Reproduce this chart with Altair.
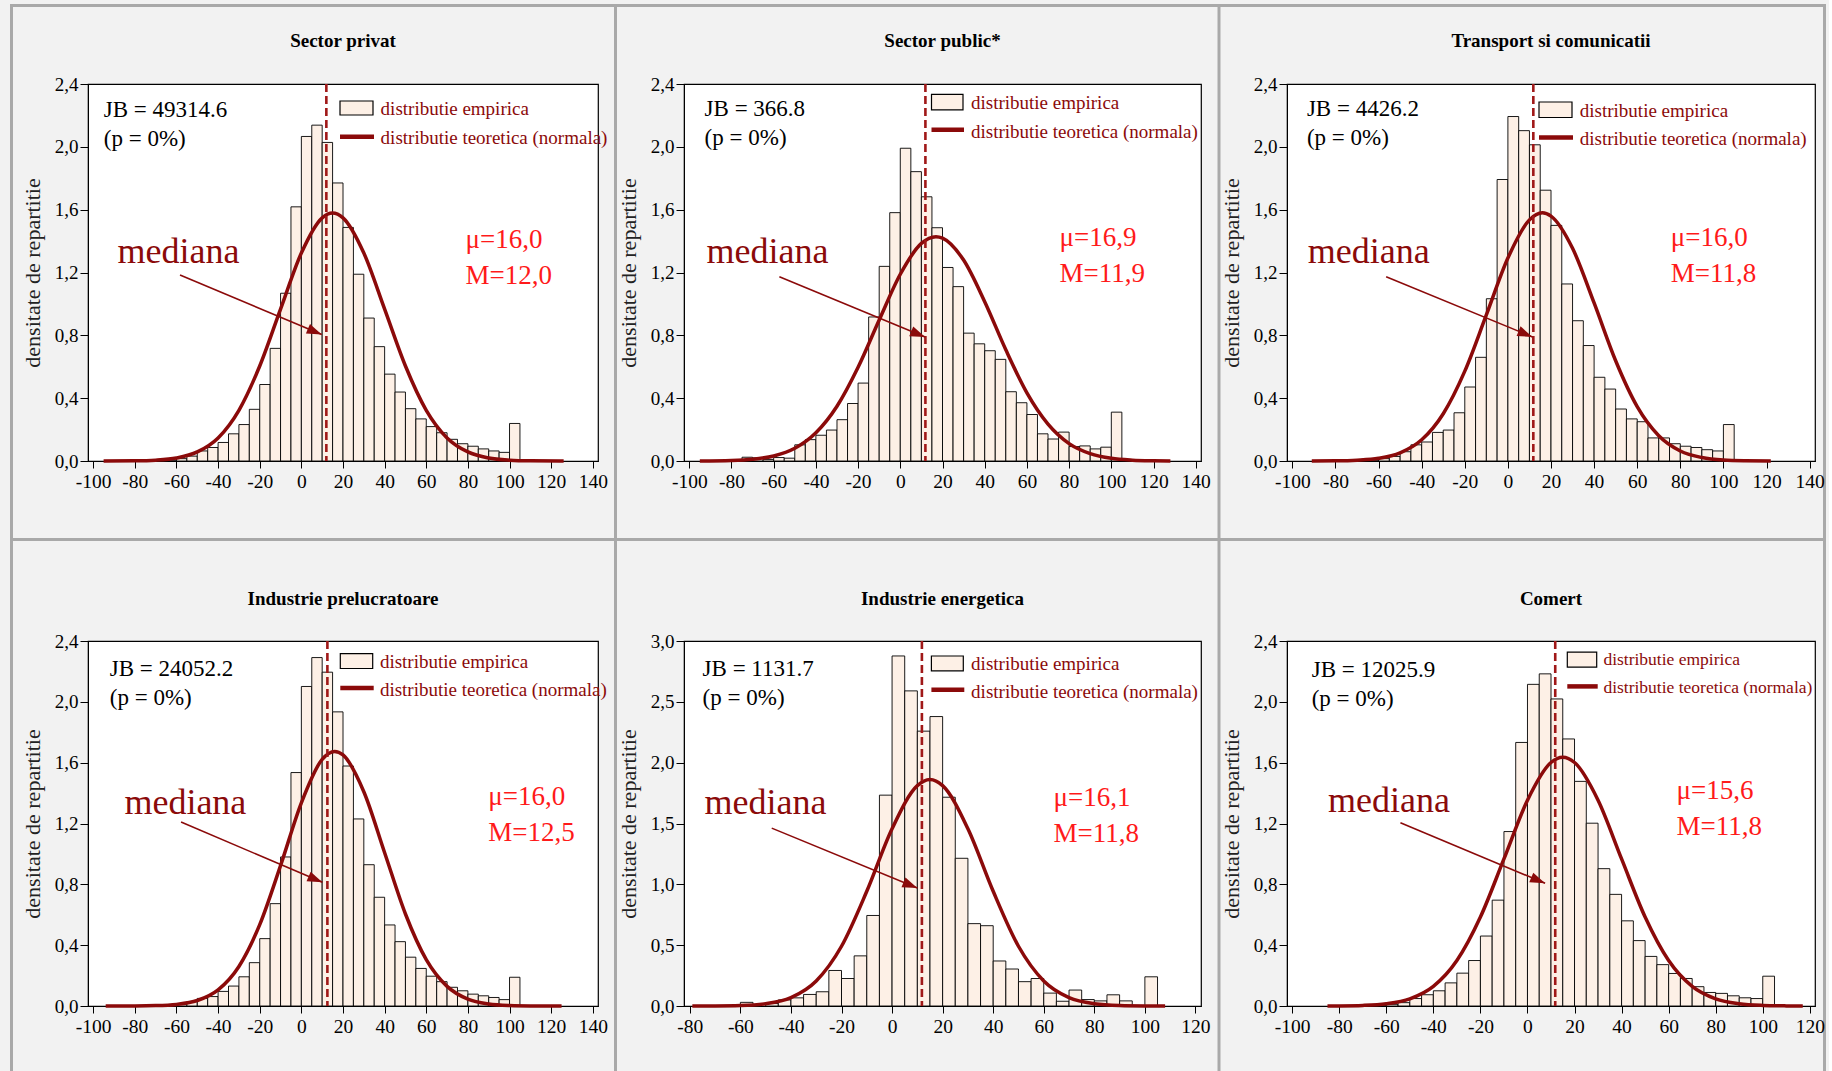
import math
import altair as alt
import pandas as pd

# ---------------- data ----------------
TITLES = ["Sector privat", "Sector public*", "Transport si comunicatii",
          "Industrie prelucratoare", "Industrie energetica", "Comert"]
JB_LABELS = ["JB = 49314.6", "JB = 366.8", "JB = 4426.2",
             "JB = 24052.2", "JB = 1131.7", "JB = 12025.9"]
P_LABEL = "(p = 0%)"
MU_LABELS = ["μ=16,0", "μ=16,9", "μ=16,0", "μ=16,0", "μ=16,1", "μ=15,6"]
MED_LABELS = ["M=12,0", "M=11,9", "M=11,8", "M=12,5", "M=11,8", "M=11,8"]
MEDIANS = [12.0, 11.9, 11.8, 12.5, 11.8, 11.8]

BIN_START = [-75, -70, -65, -60, -55, -50, -45, -40, -35, -30, -25, -20,
             -15, -10, -5, 0, 5, 10, 15, 20, 25, 30, 35, 40, 45, 50, 55,
             60, 65, 70, 75, 80, 85, 90, 95, 100]
BIN_WIDTH = 5

H_PRIVAT = [0, 0, 0.005, 0.015, 0.031, 0.064, 0.086, 0.118, 0.173, 0.232, 0.329, 0.487,
            0.717, 1.068, 1.618, 2.066, 2.138, 2.028, 1.77, 1.487, 1.189, 0.91, 0.728, 0.553,
            0.439, 0.333, 0.268, 0.219, 0.18, 0.138, 0.11, 0.094, 0.077, 0.064, 0.055, 0.239]
H_PUBLIC = [0.024, 0.02, 0.01, 0.022, 0.018, 0.103, 0.136, 0.164, 0.197, 0.263, 0.366, 0.496,
            0.917, 1.239, 1.581, 1.991, 1.842, 1.682, 1.485, 1.232, 1.11, 0.814, 0.746, 0.702,
            0.647, 0.441, 0.371, 0.296, 0.173, 0.14, 0.184, 0.092, 0.096, 0.077, 0.088, 0.311]
H_TRANSP = [0, 0, 0.005, 0.015, 0.029, 0.059, 0.103, 0.121, 0.182, 0.197, 0.307, 0.471,
            0.66, 1.033, 1.792, 2.193, 2.103, 2.013, 1.724, 1.5, 1.127, 0.893, 0.735, 0.533,
            0.458, 0.331, 0.268, 0.25, 0.147, 0.147, 0.11, 0.094, 0.086, 0.072, 0.064, 0.232]
H_PRELUC = [0, 0, 0.005, 0.015, 0.029, 0.05, 0.062, 0.096, 0.131, 0.192, 0.285, 0.443,
            0.673, 0.98, 1.535, 2.101, 2.291, 2.195, 1.934, 1.578, 1.23, 0.929, 0.715, 0.533,
            0.423, 0.321, 0.247, 0.196, 0.16, 0.123, 0.1, 0.078, 0.067, 0.056, 0.042, 0.189]
H_ENERG = [0, 0, 0, 0.03, 0, 0.02, 0.05, 0.067, 0.095, 0.117, 0.292, 0.226,
           0.412, 0.744, 1.733, 2.877, 2.59, 2.259, 2.379, 1.716, 1.214, 0.677, 0.66, 0.37,
           0.304, 0.2, 0.226, 0.106, 0.039, 0.131, 0.053, 0.042, 0.092, 0.042, 0, 0.24]
H_COMERT = [0, 0, 0.005, 0.011, 0.022, 0.049, 0.074, 0.1, 0.152, 0.216, 0.299, 0.46,
            0.696, 1.147, 1.733, 2.115, 2.184, 2.019, 1.756, 1.477, 1.202, 0.903, 0.734, 0.56,
            0.43, 0.326, 0.272, 0.214, 0.181, 0.127, 0.089, 0.083, 0.067, 0.054, 0.049, 0.196]
HEIGHTS = [H_PRIVAT, H_PUBLIC, H_TRANSP, H_PRELUC, H_ENERG, H_COMERT]

# theoretical (normal) curves
NX_PRIVAT = [-95, -80, -70, -60, -50, -40, -30, -20, -10, 0, 10, 15, 20, 30, 40, 50, 60, 70, 80, 90, 100, 110, 126]
NY_PRIVAT = [0.0001, 0.0013, 0.0055, 0.0192, 0.0577, 0.147, 0.323, 0.605, 0.967, 1.324, 1.548, 1.579,
             1.548, 1.324, 0.967, 0.605, 0.323, 0.147, 0.0577, 0.0192, 0.0055, 0.0013, 0.0001]
NX_PUBLIC = [-95, -80, -70, -60, -50, -40, -30, -20, -10, 0, 10, 16.9, 20, 30, 40, 50, 60, 70, 80, 90, 100, 110, 120, 128]
NY_PUBLIC = [0.0005, 0.0035, 0.011, 0.032, 0.081, 0.18, 0.349, 0.597, 0.898, 1.189, 1.385, 1.428,
             1.419, 1.279, 1.014, 0.708, 0.434, 0.235, 0.111, 0.047, 0.017, 0.0055, 0.0016, 0.0005]
NX_TRANSP = [-91, -80, -70, -60, -50, -40, -30, -20, -10, 0, 10, 16, 20, 30, 40, 50, 60, 70, 80, 90, 100, 110, 122]
NY_TRANSP = [0.0002, 0.001, 0.005, 0.017, 0.052, 0.135, 0.301, 0.572, 0.93, 1.292, 1.535, 1.58,
             1.559, 1.354, 1.006, 0.638, 0.346, 0.161, 0.064, 0.022, 0.006, 0.0016, 0.0002]
NX_PRELUC = [-94, -80, -70, -60, -50, -40, -30, -20, -10, 0, 10, 16, 20, 30, 40, 50, 60, 70, 80, 90, 100, 110, 125]
NY_PRELUC = [0.0001, 0.0005, 0.0025, 0.0104, 0.036, 0.106, 0.26, 0.535, 0.923, 1.336, 1.622, 1.674,
             1.651, 1.409, 1.008, 0.605, 0.305, 0.129, 0.045, 0.0135, 0.0034, 0.0007, 0.0001]
NX_ENERG = [-79, -70, -60, -50, -40, -30, -20, -10, 0, 10, 15, 20, 30, 40, 50, 60, 70, 80, 90, 100, 108]
NY_ENERG = [0.0001, 0.0007, 0.004, 0.019, 0.069, 0.206, 0.491, 0.943, 1.457, 1.811, 1.861,
            1.811, 1.457, 0.943, 0.491, 0.206, 0.069, 0.019, 0.004, 0.0007, 0.0001]
NX_COMERT = [-85, -80, -70, -60, -50, -40, -30, -20, -10, 0, 10, 15, 20, 30, 40, 50, 60, 70, 80, 90, 100, 110, 117]
NY_COMERT = [0.0004, 0.0008, 0.0038, 0.0146, 0.047, 0.129, 0.299, 0.585, 0.967, 1.353, 1.601, 1.635,
             1.601, 1.353, 0.967, 0.585, 0.299, 0.129, 0.047, 0.0146, 0.0038, 0.0008, 0.0002]
NORM_X = [NX_PRIVAT, NX_PUBLIC, NX_TRANSP, NX_PRELUC, NX_ENERG, NX_COMERT]
NORM_Y = [NY_PRIVAT, NY_PUBLIC, NY_TRANSP, NY_PRELUC, NY_ENERG, NY_COMERT]

# "mediana" arrows (data coordinates): start and tip
ARROW_FROM = [(-58.3, 1.184), (-57.3, 1.173), (-56.5, 1.173), (-57.8, 1.21), (-47.6, 1.462), (-54.0, 1.205)]
ARROW_TO = [(9.8, 0.805), (11.75, 0.789), (11.4, 0.79), (10.1, 0.813), (10.0, 0.969), (7.5, 0.807)]

X_TICKS_A = [-100, -80, -60, -40, -20, 0, 20, 40, 60, 80, 100, 120, 140]
X_TICKS_E = [-80, -60, -40, -20, 0, 20, 40, 60, 80, 100, 120]
X_TICKS_C = [-100, -80, -60, -40, -20, 0, 20, 40, 60, 80, 100, 120]
Y_TICKS_A = [0, 0.4, 0.8, 1.2, 1.6, 2.0, 2.4]
Y_TICKS_E = [0, 0.5, 1.0, 1.5, 2.0, 2.5, 3.0]

# ---------------- layout / style ----------------
XDOM = [[-102.5, 142.5]] * 4 + [[-82.3, 122.2], [-102.2, 122.2]]
XTICKS = [X_TICKS_A] * 4 + [X_TICKS_E, X_TICKS_C]
YDOM = [[0, 2.4]] * 4 + [[0, 3.0], [0, 2.4]]
YTICKS = [Y_TICKS_A] * 4 + [Y_TICKS_E, Y_TICKS_A]
W = [510, 517, 528, 510, 517, 528]
H = [377, 377, 377, 365, 365, 365]
COL_SPACING = 86
ROW_SPACING = 180
ORIGIN_X, ORIGIN_Y = 87, 83  # canvas position of the first plot area
TITLE_DY = [-43, -43, -43, -42, -42, -42]

LEG_BOX = [(252, 285, 17, 31), (247.5, 279, 10.4, 25.9), (252, 285, 18, 33.5),
           (252.3, 284.7, 12.6, 27.5), (247.4, 279.3, 15, 29.8), (280.3, 309.7, 11.2, 26.1)]
LEG_TX = [292.6, 287, 292.8, 291.9, 287.1, 316.4]
LEG_TY1 = [25, 19, 27, 20.7, 23.4, 19.3]
LEG_LY = [52.7, 45.8, 53.4, 47.1, 48.8, 45.4]
LEG_FS = [19, 19, 19, 19, 19, 17.5]
JB_POS = [(15.8, 26), (20.6, 24.8), (19.9, 24.8), (21.8, 27.8), (18.6, 27.8), (24.7, 28.8)]
MED_POS = [(29.6, 168), (22.6, 168), (20.7, 168), (36.4, 162.2), (20.6, 162.2), (41.1, 159.9)]
MU_POS = [(377.6, 155.7), (375.5, 154.3), (383.7, 154.3), (400.2, 155.5), (369.6, 157.2), (389.6, 149.7)]

SERIF = "Liberation Serif"
TITLE_FONT = "Liberation Sans Narrow, Liberation Serif"
DARK = "#8b0a0a"
MED_COLOR = "#a01818"
RED = "#ff1a1a"
BAR_FILL = "#fdf0e6"
BG = "#f2f2f2"
SEP = "#a9a9a9"
ARROW_PATH = "M0,0L-2,-0.7L-2,0.7Z"
YLABEL_EXPR = "replace(format(datum.value, '.1f'), '.', ',')"
XLABEL_EXPR = "datum.value < 0 ? '-' + format(-datum.value, 'd') : format(datum.value, 'd')"


def one():
    return pd.DataFrame({"a": [0]})


def text_layer(txt, x, y, size, color, align="left", font=SERIF, weight="normal"):
    return alt.Chart(one()).mark_text(
        text=txt, font=font, fontSize=size, color=color, align=align, baseline="middle",
        fontWeight=weight
    ).encode(x=alt.value(x), y=alt.value(y))


def panel(i):
    w, h = W[i], H[i]
    xs = alt.Scale(domain=XDOM[i], nice=False, zero=False)
    ys = alt.Scale(domain=YDOM[i], nice=False, zero=False)
    xaxis = alt.Axis(values=XTICKS[i], grid=False, tickSize=7, labelPadding=4,
                     labelFont=SERIF, labelFontSize=19.5, labelColor="black",
                     labelExpr=XLABEL_EXPR,
                     domainColor="black", tickColor="black", labelFlush=False)
    yaxis = alt.Axis(values=YTICKS[i], grid=False, tickSize=8, labelPadding=2,
                     labelFont=SERIF, labelFontSize=19, labelColor="black",
                     labelExpr=YLABEL_EXPR, domainColor="black", tickColor="black",
                     title="densitate de repartitie", titleFont=SERIF, titleFontSize=22,
                     titleFontWeight="normal", titleColor="#222222", titlePadding=10,
                     labelFlush=False)
    YT = "densitate de repartitie"

    def X(f):
        return alt.X(f, scale=xs, axis=xaxis, title=None)

    def Y(f):
        return alt.Y(f, scale=ys, axis=yaxis, title=YT)

    bdf = pd.DataFrame({"x0": BIN_START,
                        "x1": [b + BIN_WIDTH for b in BIN_START],
                        "d": HEIGHTS[i],
                        "base": [0] * len(BIN_START)})
    bdf = bdf[bdf["d"] > 0]
    bars = alt.Chart(bdf).mark_rect(fill=BAR_FILL, stroke="black", strokeWidth=0.9).encode(
        x=X("x0:Q"), x2="x1:Q", y=Y("d:Q"), y2="base:Q")

    ndf = pd.DataFrame({"nx": NORM_X[i], "ny": NORM_Y[i]})
    normal = alt.Chart(ndf).mark_line(color=DARK, strokeWidth=3.5, interpolate="monotone").encode(
        x=X("nx:Q"), y=Y("ny:Q"))

    mdf = pd.DataFrame({"m": [MEDIANS[i]]})
    median = alt.Chart(mdf).mark_rule(color=MED_COLOR, strokeWidth=2.6, strokeDash=[8, 4]).encode(
        x=X("m:Q"), y=alt.value(0), y2=alt.value(h))

    (ax, ay), (bx, by) = ARROW_FROM[i], ARROW_TO[i]
    adf = pd.DataFrame({"ax": [ax], "ay": [ay], "bx": [bx], "by": [by]})
    arrow = alt.Chart(adf).mark_rule(color=DARK, strokeWidth=1.6).encode(
        x=X("ax:Q"), y=Y("ay:Q"), x2="bx:Q", y2="by:Q")
    dxp = (bx - ax) / (XDOM[i][1] - XDOM[i][0]) * w
    dyp = (ay - by) / (YDOM[i][1] - YDOM[i][0]) * h
    ang = math.degrees(math.atan2(dyp, dxp)) % 360
    head = alt.Chart(adf).mark_point(shape=ARROW_PATH, size=225, angle=ang, filled=True,
                                     color=DARK, opacity=1, strokeWidth=0).encode(
        x=X("bx:Q"), y=Y("by:Q"))

    x1, x2, y1, y2 = LEG_BOX[i]
    leg_box = alt.Chart(one()).mark_rect(fill=BAR_FILL, stroke="black", strokeWidth=1.2).encode(
        x=alt.value(x1), x2=alt.value(x2), y=alt.value(y1), y2=alt.value(y2))
    leg_line = alt.Chart(one()).mark_rule(color=DARK, strokeWidth=4.5).encode(
        x=alt.value(x1), x2=alt.value(x2 + 1), y=alt.value(LEG_LY[i]))
    leg_t1 = text_layer("distributie empirica", LEG_TX[i], LEG_TY1[i], LEG_FS[i], DARK)
    leg_t2 = text_layer("distributie teoretica (normala)", LEG_TX[i], LEG_LY[i] + 1.7, LEG_FS[i], DARK)

    jx, jy = JB_POS[i]
    jb1 = text_layer(JB_LABELS[i], jx, jy, 23, "black")
    jb2 = text_layer(P_LABEL, jx, jy + 29, 23, "black")
    mx, my = MED_POS[i]
    med_t = text_layer("mediana", mx, my, 36, DARK)
    ux, uy = MU_POS[i]
    mu_t = text_layer(MU_LABELS[i], ux, uy, 27, RED)
    mm_t = text_layer(MED_LABELS[i], ux, uy + 36, 27, RED)
    title_t = text_layer(TITLES[i], w / 2, TITLE_DY[i], 19, "black", align="center",
                         font=TITLE_FONT, weight="bold")

    layers = [bars, normal, median, arrow, head, leg_box, leg_line, leg_t1, leg_t2,
              jb1, jb2, med_t, mu_t, mm_t, title_t]

    if i == 0:
        # grey frame / separators of the six cells, drawn in pixels of the first panel
        def px(cx):
            return cx - ORIGIN_X

        def py(cy):
            return cy - ORIGIN_Y

        seps = []
        # anchor (background coloured) fixing the canvas origin
        seps.append(alt.Chart(one()).mark_rule(color=BG, strokeWidth=1).encode(
            x=alt.value(px(0.5)), x2=alt.value(px(6)), y=alt.value(py(0.5))))
        for cx in [10.5, 614.5, 1218.0, 1823.5]:
            seps.append(alt.Chart(one()).mark_rule(color=SEP, strokeWidth=3).encode(
                x=alt.value(px(cx)), y=alt.value(py(3)), y2=alt.value(py(1080))))
        for cy in [4.5, 538.5]:
            seps.append(alt.Chart(one()).mark_rule(color=SEP, strokeWidth=3).encode(
                x=alt.value(px(9)), x2=alt.value(px(1825)), y=alt.value(py(cy))))
        layers = seps + layers

    return alt.layer(*layers).properties(width=w, height=h)


chart = alt.concat(*[panel(i) for i in range(6)], columns=3,
                   spacing={"row": ROW_SPACING, "column": COL_SPACING},
                   bounds="flush").properties(padding=0).configure(
    background=BG).configure_view(fill="white", stroke="black", strokeWidth=1.2)

chart.save("out.html", embed_options={"renderer": "svg", "actions": False})
